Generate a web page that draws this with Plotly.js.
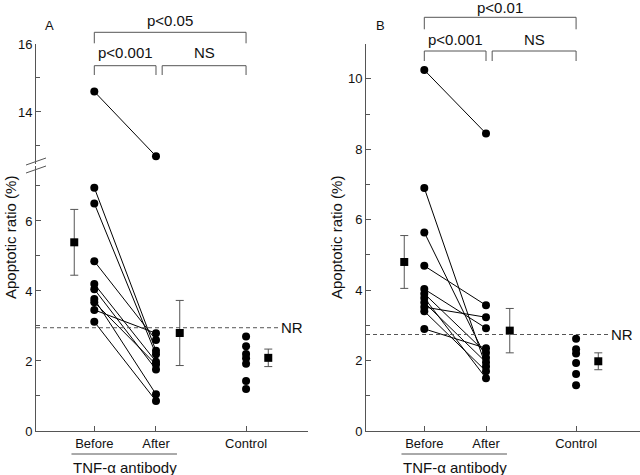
<!DOCTYPE html>
<html>
<head>
<meta charset="utf-8">
<script src="https://cdn.plot.ly/plotly-3.0.1.min.js"></script>
<style>html,body{margin:0;padding:0;background:#fff;}#chart{width:640px;height:475px;}</style>
</head>
<body>
<div id="chart"></div>
<script>
// ---------- data ----------
const categories = ['Before', 'After', 'Control'];
const catPos = [1, 2, 3.46];
const meanPos = [0.675, 2.385, 3.82];

// Panel A (lower segment of broken axis)
const aBefore = [6.95, 6.5, 4.85, 4.2, 4.05, 3.77, 3.68, 3.46, 3.12];
const aAfter  = [2.29, 2.19, 2.6, 1.98, 1.76, 1.05, 1.9, 2.79, 0.86];
// Panel A (upper segment)
const aBeforeHigh = [14.6];
const aAfterHigh  = [12.7];
const aControl = [2.7, 2.42, 2.2, 2.08, 1.92, 1.43, 1.2];
const aMean = [5.39, 2.8, 2.09];
const aSD   = [0.94, 0.93, 0.25];
const aNR = 2.95;

// Panel B
const bBefore = [10.25, 6.9, 5.64, 4.69, 4.03, 3.9, 3.78, 3.65, 3.52, 3.4, 2.9];
const bAfter  = [8.45, 1.83, 2.08, 3.57, 2.92, 2.22, 1.5, 1.95, 3.23, 1.7, 2.35];
const bControl = [2.62, 2.32, 2.2, 1.93, 1.62, 1.3];
const bMean = [4.8, 2.85, 1.98];
const bSD   = [0.75, 0.63, 0.24];
const bNR = 2.74;

const pTexts = {A: ['p<0.05', 'p<0.001', 'NS'], B: ['p<0.01', 'p<0.001', 'NS']};

// ---------- helpers ----------
const FONT = 'Liberation Sans, Arial, sans-serif';
const AX = '#555';
const H = 475;
const py = px => (H - px) / H;   // pixel-from-top -> paper fraction

function pairs(before, after) {
  const x = [], y = [];
  before.forEach((b, i) => { x.push(catPos[0], catPos[1], null); y.push(b, after[i], null); });
  return {x, y};
}
function pairTrace(before, after, xa, ya) {
  const p = pairs(before, after);
  return {x: p.x, y: p.y, xaxis: xa, yaxis: ya, mode: 'lines+markers', type: 'scatter',
    line: {color: '#000', width: 1}, marker: {color: '#000', size: 8, symbol: 'circle'},
    cliponaxis: false, hoverinfo: 'skip'};
}
function controlTrace(vals, xa, ya) {
  return {x: vals.map(() => catPos[2]), y: vals, xaxis: xa, yaxis: ya, mode: 'markers', type: 'scatter',
    marker: {color: '#000', size: 8, symbol: 'circle'}, hoverinfo: 'skip'};
}
function meanTrace(mean, sd, xa, ya) {
  return {x: meanPos, y: mean, xaxis: xa, yaxis: ya, mode: 'markers', type: 'scatter',
    marker: {color: '#000', size: 8, symbol: 'square'},
    error_y: {type: 'data', array: sd, visible: true, color: AX, thickness: 1, width: 4},
    hoverinfo: 'skip'};
}

const traces = [
  pairTrace(aBefore, aAfter, 'x', 'y'),
  pairTrace(aBeforeHigh, aAfterHigh, 'x', 'y3'),
  controlTrace(aControl, 'x', 'y'),
  meanTrace(aMean, aSD, 'x', 'y'),
  pairTrace(bBefore, bAfter, 'x2', 'y2'),
  controlTrace(bControl, 'x2', 'y2'),
  meanTrace(bMean, bSD, 'x2', 'y2')
];

const xCommon = {
  showline: true, linecolor: AX, linewidth: 1, ticks: 'inside', ticklen: 5, tickcolor: AX,
  tickvals: catPos, ticktext: categories, showgrid: false, zeroline: false,
  tickfont: {family: FONT, size: 13, color: '#111'}, fixedrange: true
};
const yCommon = {
  showline: true, linecolor: AX, linewidth: 1, ticks: 'inside', ticklen: 5, tickcolor: AX,
  dtick: 2, tick0: 0, showgrid: false, zeroline: false,
  minor: {dtick: 1, tick0: 0, ticks: 'inside', ticklen: 4, tickcolor: AX, showgrid: false},
  tickfont: {family: FONT, size: 13, color: '#111'}, fixedrange: true
};

const shapes = [];
const annotations = [];

function bracket(xa, x1, x2, yTop, yBot) {
  shapes.push({type: 'path', xref: xa, yref: 'paper',
    path: `M ${x1},${py(yBot)} L ${x1},${py(yTop)} L ${x2},${py(yTop)} L ${x2},${py(yBot)}`,
    line: {color: AX, width: 1}});
}
function label(xref, x, ypx, text, opts) {
  annotations.push(Object.assign({xref: xref, yref: 'paper', x: x, y: py(ypx), text: text,
    showarrow: false, xanchor: 'center', yanchor: 'middle',
    font: {family: FONT, size: 15, color: '#111'}}, opts || {}));
}

// Panel A decorations
bracket('x', catPos[0], catPos[2], 32.3, 43.3);
bracket('x', catPos[0], catPos[1], 65.7, 75);
bracket('x', 2.10, catPos[2], 65.7, 75);
label('x', 2.23, 20.5, pTexts.A[0]);
label('x', 1.5, 53, pTexts.A[1]);
label('x', 2.78, 53, pTexts.A[2]);
// Panel B decorations
bracket('x2', catPos[0], catPos[2], 17.3, 29.3);
bracket('x2', catPos[0], catPos[1], 51, 61);
bracket('x2', 2.10, catPos[2], 51, 61);
label('x2', 2.23, 8, pTexts.B[0]);
label('x2', 1.5, 39, pTexts.B[1]);
label('x2', 2.78, 39, pTexts.B[2]);

// NR reference lines
shapes.push({type: 'line', xref: 'x', yref: 'y', x0: 0.055, x1: 3.98, y0: aNR, y1: aNR,
  line: {color: AX, width: 1, dash: '4px,3px'}});
shapes.push({type: 'line', xref: 'x2', yref: 'y2', x0: 0.055, x1: 3.98, y0: bNR, y1: bNR,
  line: {color: AX, width: 1, dash: '4px,3px'}});
annotations.push({xref: 'x', yref: 'y', x: 4.0, y: aNR, text: 'NR', showarrow: false,
  xanchor: 'left', yanchor: 'middle', font: {family: FONT, size: 15, color: '#111'}});
annotations.push({xref: 'x2', yref: 'y2', x: 4.0, y: bNR, text: 'NR', showarrow: false,
  xanchor: 'left', yanchor: 'middle', font: {family: FONT, size: 15, color: '#111'}});

// TNF-α antibody group labels
['x', 'x2'].forEach(xa => {
  shapes.push({type: 'line', xref: xa, yref: 'paper', x0: 0.63, x1: 2.34, y0: py(454), y1: py(454),
    line: {color: AX, width: 1}});
  label(xa, 1.5, 467, 'TNF-α antibody', {font: {family: FONT, size: 15, color: '#111'}});
});

// Axis break marks on panel A
shapes.push({type: 'line', xref: 'paper', yref: 'paper', x0: 26/640, x1: 46/640, y0: py(165), y1: py(158),
  line: {color: AX, width: 1}});
shapes.push({type: 'line', xref: 'paper', yref: 'paper', x0: 26/640, x1: 46/640, y0: py(173), y1: py(166),
  line: {color: AX, width: 1}});

// Panel letters and y titles
label('paper', 49/640, 25, 'A', {font: {family: FONT, size: 13, color: '#111'}});
label('paper', 380/640, 25, 'B', {font: {family: FONT, size: 13, color: '#111'}});
label('paper', 10/640, 238, 'Apoptotic ratio (%)', {textangle: -90, font: {family: FONT, size: 15, color: '#111'}});
label('paper', 336/640, 238, 'Apoptotic ratio (%)', {textangle: -90, font: {family: FONT, size: 15, color: '#111'}});

const layout = {
  width: 640, height: 475,
  margin: {l: 0, r: 0, t: 0, b: 0},
  paper_bgcolor: '#fff', plot_bgcolor: '#fff',
  showlegend: false, hovermode: false,
  xaxis: Object.assign({}, xCommon, {domain: [36/640, 308/640], range: [0.055, 4.464], anchor: 'y'}),
  yaxis: Object.assign({}, yCommon, {domain: [py(431), py(166)], range: [0, 7.57], anchor: 'x'}),
  yaxis3: Object.assign({}, yCommon, {domain: [py(164), py(44)], range: [12.47, 16], anchor: 'x'}),
  xaxis2: Object.assign({}, xCommon, {domain: [366/640, 1], range: [0.055, 4.496], anchor: 'y2'}),
  yaxis2: Object.assign({}, yCommon, {domain: [py(431), py(44)], range: [0, 10.99], anchor: 'x2'}),
  shapes: shapes,
  annotations: annotations
};

Plotly.newPlot('chart', traces, layout, {staticPlot: true, displayModeBar: false});
</script>
</body>
</html>
